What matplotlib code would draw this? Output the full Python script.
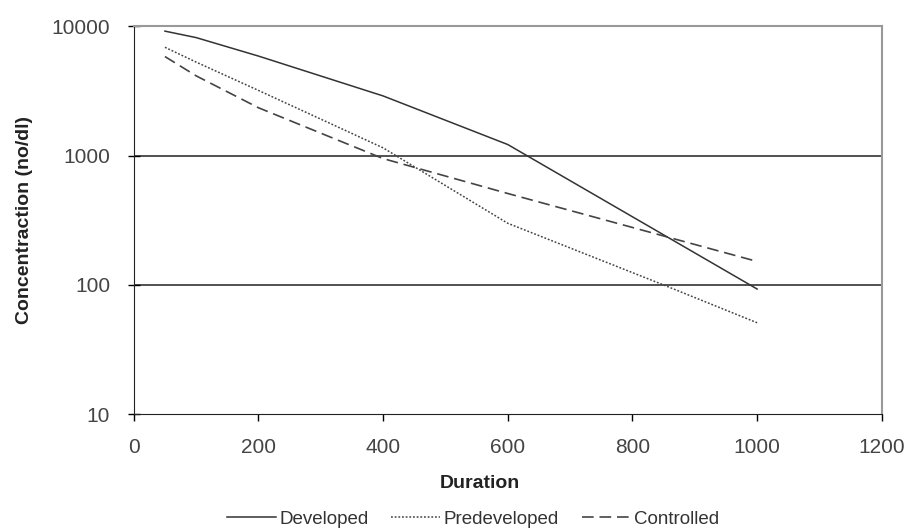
import matplotlib
matplotlib.use('Agg')
import matplotlib.pyplot as plt
from matplotlib.ticker import FixedLocator, FixedFormatter, NullLocator

plt.rcParams['font.family'] = ['Liberation Sans', 'DejaVu Sans']

# values
duration = [50, 100, 200, 400, 600, 1000]
developed = [9200, 8200, 5900, 2900, 1220, 93]
controlled = [5850, 4150, 2350, 950, 510, 152]
pre_x = [50, 100, 200, 400, 600, 850, 1000]
predeveloped = [6900, 5300, 3200, 1150, 300, 100, 51]

yticks = [10, 100, 1000, 10000]
xticks = [0, 200, 400, 600, 800, 1000, 1200]

fig = plt.figure(figsize=(9.1, 5.29), dpi=100)
ax = fig.add_axes([0.147, 0.217, 0.822, 0.733])

ax.plot(duration, developed, color='#333333', lw=1.1, ls='-', label='Developed')
ax.plot(pre_x, predeveloped, color='#444444', lw=1.1, ls=(0, (1.2, 1.2)), label='Predeveloped')
ax.plot(duration, controlled, color='#444444', lw=1.2, ls=(0, (7, 3.5)), label='Controlled')

ax.set_yscale('log')
ax.set_ylim(10, 10000)
ax.set_xlim(0, 1200)
ax.yaxis.set_major_locator(FixedLocator(yticks))
ax.yaxis.set_major_formatter(FixedFormatter([str(v) for v in yticks]))
ax.yaxis.set_minor_locator(NullLocator())
ax.set_xticks(xticks)
ax.set_xticklabels([str(v) for v in xticks])

for v in [100, 1000]:
    ax.axhline(v, color='#333333', lw=1.2, zorder=0)

ax.spines['left'].set_color('#222222')
ax.spines['bottom'].set_color('#222222')
ax.spines['top'].set_color('#999999')
ax.spines['right'].set_color('#999999')
ax.spines['top'].set_linewidth(1.5)
ax.spines['right'].set_linewidth(1.5)

ax.tick_params(axis='y', direction='inout', length=8, width=1, labelsize=15,
               labelcolor='#444444', pad=13)
ax.tick_params(axis='x', direction='out', length=5, width=1, labelsize=15,
               labelcolor='#444444', pad=12)

ax.set_xlabel('Duration', fontsize=14, fontweight='bold', color='#222222')
ax.set_ylabel('Concentraction (no/dl)', fontsize=14, fontweight='bold', color='#222222')
ax.xaxis.set_label_coords(0.463, -0.157)
ax.yaxis.set_label_coords(-0.135, 0.5)

fig.legend(loc='center', bbox_to_anchor=(0.52, 1 - 519 / 529), ncol=3, frameon=False,
           fontsize=13.5, handlelength=2.6, handletextpad=0.2, columnspacing=1.2,
           labelcolor='#333333')

fig.savefig('out.png', dpi=100)
